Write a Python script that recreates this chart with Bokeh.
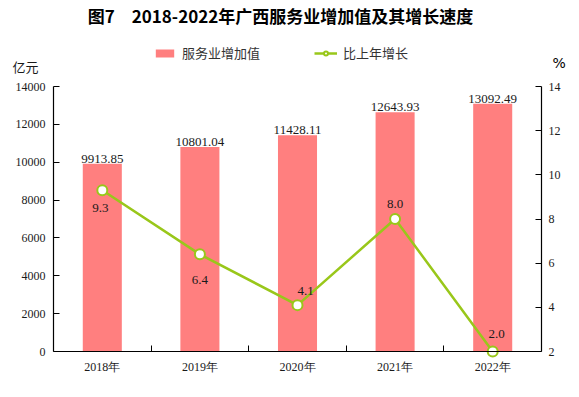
from bokeh.plotting import figure
from bokeh.models import Range1d, LinearAxis, FixedTicker, Label, Legend, LegendItem
from bokeh.core.properties import value
from bokeh.embed import file_html
from bokeh.resources import INLINE

years = ["2018年", "2019年", "2020年", "2021年", "2022年"]
added_value = [9913.85, 10801.04, 11428.11, 12643.93, 13092.49]
growth = [9.3, 6.4, 4.1, 8.0, 2.0]
left_ticks = [0, 2000, 4000, 6000, 8000, 10000, 12000, 14000]
right_ticks = [2, 4, 6, 8, 10, 12, 14]

# label placement (screen px) for growth labels
g_dx = [-2, 0, 8, 0, 4]
g_dy = [18, 26, -14, -15, -18]

SERIF = "Liberation Serif"
CJK = "Noto Sans CJK SC"
TXT = "#1a1a1a"
BAR = "#FF7F7F"
GREEN = "#99C71A"

W, H = 571, 389
# plot-area box in canvas pixels
PL, PR, PT, PB = 53, 541, 86, 351

n = len(years)
xs = [i + 0.5 for i in range(n)]

def rng(lo, hi, p_lo, p_hi, total, flip=False):
    # data lo at pixel p_lo, hi at pixel p_hi; canvas spans 0..total
    per = (hi - lo) / (p_hi - p_lo)
    if flip:
        return Range1d(lo - (total - p_lo) * per * -1 * -1 if False else lo - (total - p_lo) * (-per), hi + p_hi * (-per))
    return Range1d(lo - p_lo * per, hi + (total - p_hi) * per)

xper = n / (PR - PL)
x_range = Range1d(0 - PL * xper, n + (W - PR) * xper)
yper = (left_ticks[-1] - left_ticks[0]) / (PB - PT)
y_range = Range1d(left_ticks[0] - (H - PB) * yper, left_ticks[-1] + PT * yper)
rper = (right_ticks[-1] - right_ticks[0]) / (PB - PT)
r_range = Range1d(right_ticks[0] - (H - PB) * rper, right_ticks[-1] + PT * rper)

p = figure(width=W, height=H, output_backend="svg", toolbar_location=None,
           x_range=x_range, y_range=y_range,
           x_axis_location=None, y_axis_location=None,
           min_border=0, min_border_left=0, min_border_right=0,
           min_border_top=0, min_border_bottom=0)
p.outline_line_color = None
p.grid.visible = False
p.background_fill_color = "white"
p.border_fill_color = "white"

p.extra_y_ranges = {"pct": r_range}

bars = p.vbar(x=xs, top=added_value, width=0.4, fill_color=BAR, line_color=None)
line = p.line(x=xs, y=growth, y_range_name="pct", line_color=GREEN, line_width=2.5)
pts = p.scatter(x=xs, y=growth, y_range_name="pct", size=10, fill_color="white",
                line_color=GREEN, line_width=2)

# bar value labels
p.text(x=xs, y=added_value, text=[f"{v:.2f}" for v in added_value],
       text_align="center", text_baseline="bottom", y_offset=-1,
       text_font=value(SERIF), text_font_size="13px", text_color=TXT)
# growth labels
p.text(x=xs, y=growth, y_range_name="pct", text=[f"{v:.1f}" for v in growth],
       x_offset=g_dx, y_offset=g_dy,
       text_align="center", text_baseline="middle",
       text_font=value(SERIF), text_font_size="13px", text_color=TXT)

# axes (drawn at fixed locations inside the canvas)
xa = LinearAxis(fixed_location=left_ticks[0], bounds=(0, n),
                ticker=FixedTicker(ticks=xs, minor_ticks=list(range(1, n))))
xa.major_label_overrides = {x: y for x, y in zip(xs, years)}
xa.major_tick_in = 0
xa.major_tick_out = 0
xa.minor_tick_in = 6
xa.minor_tick_out = 0
xa.major_label_standoff = 8
p.add_layout(xa, "below")

ya = LinearAxis(fixed_location=0, bounds=(left_ticks[0], left_ticks[-1]),
                ticker=FixedTicker(ticks=left_ticks))
ya.major_tick_in = 6
ya.major_tick_out = 0
ya.major_label_standoff = 8
p.add_layout(ya, "left")

ra = LinearAxis(y_range_name="pct", fixed_location=n, bounds=(right_ticks[0], right_ticks[-1]),
                ticker=FixedTicker(ticks=right_ticks))
ra.major_tick_in = 6
ra.major_tick_out = 0
ra.major_label_standoff = 7
p.add_layout(ra, "right")

for ax in (xa, ya, ra):
    ax.axis_line_color = "black"
    ax.axis_line_width = 1.2
    ax.major_tick_line_color = "black"
    ax.minor_tick_line_color = "black" if ax is xa else None
    ax.major_label_text_font = SERIF
    ax.major_label_text_font_size = "12px"
    ax.major_label_text_color = TXT

# legend
legend = Legend(items=[LegendItem(label="服务业增加值", renderers=[bars]),
                       LegendItem(label="比上年增长", renderers=[line, pts])],
                location=(153, H - 62), orientation="horizontal",
                glyph_width=23, glyph_height=10, label_standoff=6, spacing=54,
                padding=0, margin=0, border_line_color=None, background_fill_alpha=0,
                label_text_font=CJK, label_text_font_size="13px", label_text_color="#333333",
                label_height=14)
p.add_layout(legend)

# title and unit labels
p.add_layout(Label(x=280, y=H - 15, x_units="screen", y_units="screen",
                   text="图7　2018-2022年广西服务业增加值及其增长速度",
                   text_align="center", text_baseline="middle",
                   text_font=CJK, text_font_style="bold", text_font_size="17px",
                   text_color="black"))
p.add_layout(Label(x=12, y=H - 66, x_units="screen", y_units="screen", text="亿元",
                   text_align="left", text_baseline="middle",
                   text_font=CJK, text_font_size="13px", text_color=TXT))
p.add_layout(Label(x=552, y=H - 62, x_units="screen", y_units="screen", text="%",
                   text_align="left", text_baseline="middle",
                   text_font="DejaVu Sans", text_font_size="14px", text_color="black"))

open("out.html", "w").write(file_html(p, INLINE))
